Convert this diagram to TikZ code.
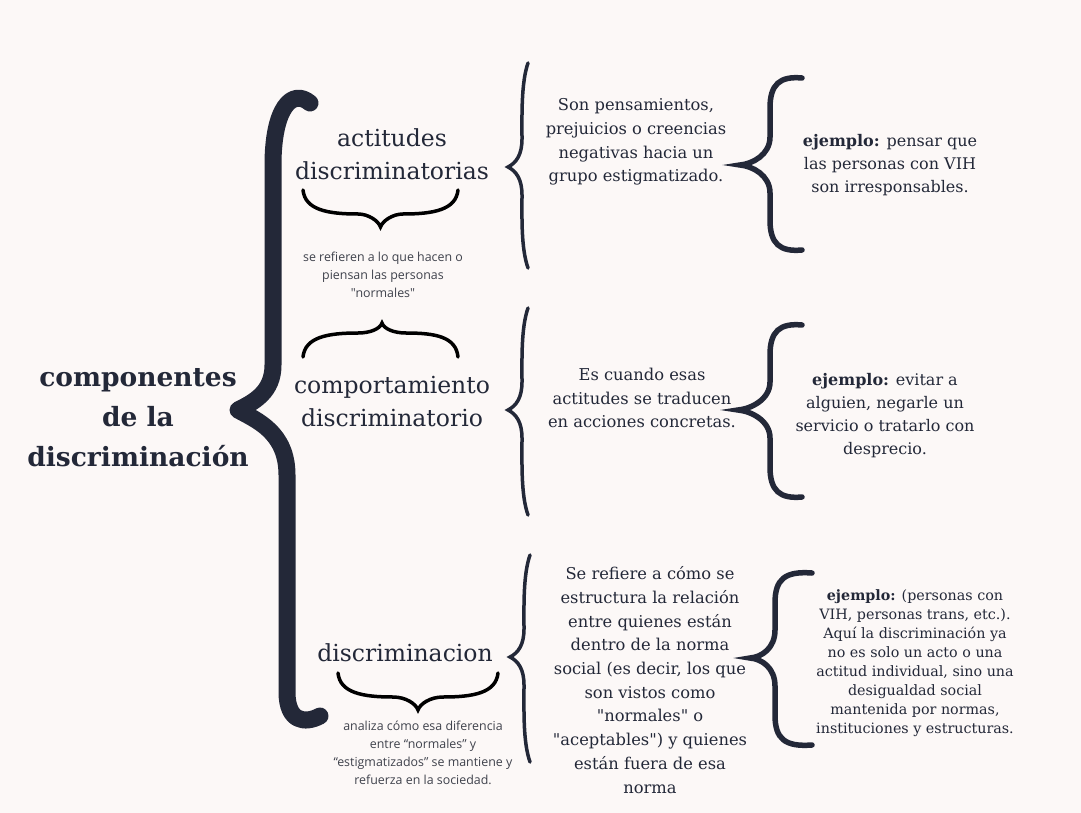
\documentclass[tikz,border=0pt]{standalone}
\usepackage{fontspec}
\setmainfont{DejaVu Serif}
\newfontfamily\plainserif{DejaVu Serif}
\newfontfamily\notefont{Open Sans}
\definecolor{paper}{HTML}{FCF8F7}
\definecolor{ink}{HTML}{232838}
\definecolor{note}{HTML}{3F424C}
\tikzstyle{title}=[align=center,text=ink,font=\fontsize{26.5}{40}\selectfont\bfseries]
\tikzstyle{head}=[align=center,text=ink,font=\fontsize{23.5}{33}\selectfont]
\tikzstyle{defn}=[align=center,text=ink,font=\plainserif\fontsize{16.3}{23.7}\selectfont]
\tikzstyle{example}=[align=center,text=ink,font=\fontsize{16}{23}\selectfont]
\tikzstyle{small example}=[align=center,text=ink,font=\fontsize{14.3}{19}\selectfont]
\tikzstyle{remark}=[align=center,text=note,font=\notefont\fontsize{12.4}{18}\selectfont]
\tikzstyle{big brace} = [draw,ink,line width=17pt,line cap=round,line join=round]
\tikzstyle{thin brace} = [draw,ink,line width=3.5pt,line cap=round]
\tikzstyle{side brace} = [draw,ink,line width=5.5pt,line cap=round]
\tikzstyle{under brace} = [draw,black,line width=3.5pt,line cap=round]

\begin{document}
\begin{tikzpicture}[x=1pt,y=-1pt]
    \fill[paper] (0,0) rectangle (1081,813);
    \useasboundingbox (0,0) rectangle (1081,813);

    \node[title] (comp) at (138,418) {componentes\\de la\\discriminación};

    \path[big brace] (310,103) .. controls (292,88) and (273,108) .. (273,165)
        -- (273,365) .. controls (273,392) and (254,402) .. (238,410)
        .. controls (256,420) and (287,432) .. (287,475) -- (287,692)
        .. controls (287,722) and (305,724) .. (320,716);

    % second level
    \node[head] (actit) at (392,154) {actitudes\\discriminatorias};
    \node[head] (compor) at (392,402) {comportamiento\\discriminatorio};
    \node[head] (discr) at (405,653) {discriminacion};

    \node[remark] (nota1) at (383,275) {se refieren a lo que hacen o\\piensan las personas\\"normales"};
    \node[remark] (nota3) at (423,753) {analiza cómo esa diferencia\\entre “normales” y\\“estigmatizados” se mantiene y\\refuerza en la sociedad.};

    \foreach \l/\r/\e/\p in {303/458/190/227, 338/498/673/710}
        \path[under brace] (\l,\e) .. controls (\l+2,\e+20) and (\l+25,\e+24) .. (\l+55,\e+24)
            .. controls ({(\l+\r)/2-12},\e+24) and ({(\l+\r)/2-2},\p-6) .. ({(\l+\r)/2},\p)
            .. controls ({(\l+\r)/2+2},\p-6) and ({(\l+\r)/2+12},\e+24) .. (\r-55,\e+24)
            .. controls (\r-25,\e+24) and (\r-2,\e+20) .. (\r,\e);
    \path[under brace] (303,357) .. controls (305,337) and (328,333) .. (358,333)
        .. controls (370,333) and (380,329) .. (382,323)
        .. controls (384,329) and (394,333) .. (406,333)
        .. controls (436,333) and (456,337) .. (458,357);

    % definitions
    \foreach \e/\t/\p/\b in {528/63/167/268, 528/308/410/515, 530/555/657/762}
        \path[thin brace] (\e,\t) .. controls (\e-7,\t+20) and (\e-6,\p-50) .. (\e-6,\p-28)
            .. controls (\e-6,\p-12) and (\e-12,\p-4) .. (\e-20,\p)
            .. controls (\e-12,\p+4) and (\e-6,\p+12) .. (\e-6,\p+28)
            .. controls (\e-6,\b-50) and (\e-7,\b-20) .. (\e,\b);

    \node[defn] (def1) at (636,142) {Son pensamientos,\\prejuicios o creencias\\negativas hacia un\\grupo estigmatizado.};
    \node[defn] (def2) at (642,398) {Es cuando esas\\actitudes se traducen\\en acciones concretas.};
    \node[defn] (def3) at (650,680) {Se refiere a cómo se\\estructura la relación\\entre quienes están\\dentro de la norma\\social (es decir, los que\\son vistos como\\"normales" o\\"aceptables") y quienes\\están fuera de esa\\norma};

    % examples
    \foreach \ex/\vx/\tx/\t/\p/\b in {802/770/740/78/165/250, 802/770/738/325/410/497, 812/775/750/573/658/745}
        \path[side brace] (\ex,\t) .. controls (\vx+10,\t-2) and (\vx,\t+6) .. (\vx,\t+30)
            -- (\vx,\p-28) .. controls (\vx,\p-10) and (\tx+12,\p-1) .. (\tx,\p)
            .. controls (\tx+12,\p+1) and (\vx,\p+10) .. (\vx,\p+28)
            -- (\vx,\b-30) .. controls (\vx,\b-6) and (\vx+10,\b+2) .. (\ex,\b);

    \node[example] (ej1) at (890,165) {\textbf{ejemplo:} pensar que\\las personas con VIH\\son irresponsables.};
    \node[example] (ej2) at (885,416) {\textbf{ejemplo:} evitar a\\alguien, negarle un\\servicio o tratarlo con\\desprecio.};
    \node[small example] (ej3) at (915,663) {\textbf{ejemplo:} (personas con\\VIH, personas trans, etc.).\\Aquí la discriminación ya\\no es solo un acto o una\\actitud individual, sino una\\desigualdad social\\mantenida por normas,\\instituciones y estructuras.};
\end{tikzpicture}
\end{document}
